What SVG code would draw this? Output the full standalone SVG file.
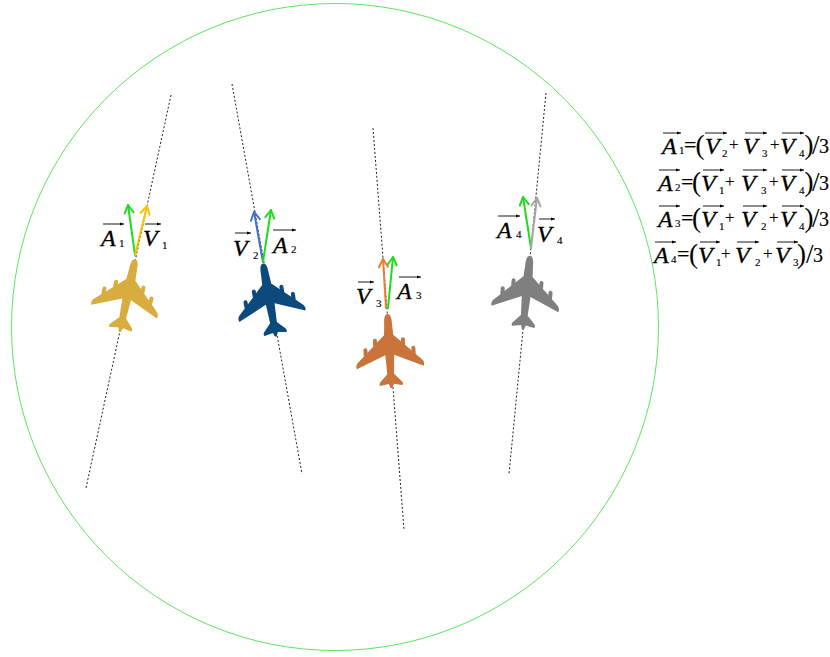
<svg xmlns="http://www.w3.org/2000/svg" width="830" height="657" viewBox="0 0 830 657">
<style>
.trk{stroke:#222;stroke-width:1;stroke-dasharray:2 2;fill:none}
.vec{stroke-width:2;fill:none;stroke-linecap:round}
.ov{stroke:#000;stroke-width:0.9;fill:none;marker-end:url(#oa)}
text{font-family:"Liberation Serif","Times New Roman",serif;font-size:24px;font-style:italic;fill:#000;stroke:#000;stroke-width:0.3}
.sub{font-style:normal;font-size:11px;stroke-width:0.15}
.op{font-style:normal;font-size:22px;stroke-width:0.15}
.pl{font-style:normal;font-size:17px;stroke-width:0.15}
.par{font-style:normal;font-size:27px;stroke-width:0.1}
.n3{font-style:normal;font-size:20px;stroke-width:0.15}
</style>
<defs>
<marker id="oa" markerUnits="userSpaceOnUse" orient="auto" overflow="visible"><path d="M-4,-1.6 L0,0 L-4,1.6 Z" fill="#000"/></marker>
<marker id="hG" markerUnits="userSpaceOnUse" orient="auto" overflow="visible"><path d="M-8,-4.5 L0,0 L-8,4.5" fill="none" stroke="#1EDC1E" stroke-width="2" stroke-linejoin="round" stroke-linecap="round"/></marker>
<marker id="hY" markerUnits="userSpaceOnUse" orient="auto" overflow="visible"><path d="M-8,-4.5 L0,0 L-8,4.5" fill="none" stroke="#FFC000" stroke-width="2" stroke-linejoin="round" stroke-linecap="round"/></marker>
<marker id="hB" markerUnits="userSpaceOnUse" orient="auto" overflow="visible"><path d="M-8,-4.5 L0,0 L-8,4.5" fill="none" stroke="#4472C4" stroke-width="2" stroke-linejoin="round" stroke-linecap="round"/></marker>
<marker id="hO" markerUnits="userSpaceOnUse" orient="auto" overflow="visible"><path d="M-8,-4.5 L0,0 L-8,4.5" fill="none" stroke="#ED7D31" stroke-width="2" stroke-linejoin="round" stroke-linecap="round"/></marker>
<marker id="hK" markerUnits="userSpaceOnUse" orient="auto" overflow="visible"><path d="M-8,-4.5 L0,0 L-8,4.5" fill="none" stroke="#A6A6A6" stroke-width="2" stroke-linejoin="round" stroke-linecap="round"/></marker>
<g id="plane">
<path d="M0 -37 C2.8 -37 3.9 -33 3.9 -27 L4.6 -16 L31.5 9.5 C34 11.5 34.5 14.5 33.5 16.5 L4.4 4 L3.4 23 L11 31 C12 32.5 12 34 11 34.5 L2.4 33 L1 37 L-1 37 L-2.4 33 L-11 34.5 C-12 34 -12 32.5 -11 31 L-3.4 23 L-4.4 4 L-33.5 16.5 C-34.5 14.5 -34 11.5 -31.5 9.5 L-4.6 -16 L-3.9 -27 C-3.9 -33 -2.8 -37 0 -37 Z"/>
<rect x="12" y="-13" width="4" height="9" rx="2"/>
<rect x="22" y="-4" width="4" height="9" rx="2"/>
<rect x="-16" y="-13" width="4" height="9" rx="2"/>
<rect x="-26" y="-4" width="4" height="9" rx="2"/>
</g>
</defs>
<rect width="830" height="657" fill="#fff"/>
<circle id="zone" cx="335" cy="327" r="323.5" fill="none" stroke="#5EE35E" stroke-width="1"/>
<g id="tracks">
<line class="trk" x1="171" y1="95" x2="86" y2="488"/>
<line class="trk" x1="232" y1="84" x2="302" y2="474"/>
<line class="trk" x1="373" y1="128" x2="404" y2="530"/>
<line class="trk" x1="546" y1="93" x2="509" y2="474"/>
</g>
<g id="plane1">
<use href="#plane" fill="#D8AC3E" transform="translate(127.5 295.5) rotate(12)"/>
</g>
<g id="plane2">
<use href="#plane" fill="#0C4A7E" transform="translate(269.5 300) rotate(-10)"/>
</g>
<g id="plane3">
<use href="#plane" fill="#C8743A" transform="translate(389.5 351) rotate(-3)"/>
</g>
<g id="plane4">
<use href="#plane" fill="#7F7F7F" transform="translate(526.5 292.5) rotate(5.5)"/>
</g>
<g id="connectors">
<line class="vec" stroke="#1EDC1E" x1="135" y1="255" x2="128" y2="205" marker-end="url(#hG)"/>
<line class="vec" stroke="#FFC000" x1="135" y1="255" x2="147" y2="206" marker-end="url(#hY)"/>
<line class="vec" stroke="#4472C4" x1="263" y1="262" x2="254" y2="212" marker-end="url(#hB)"/>
<line class="vec" stroke="#1EDC1E" x1="263" y1="262" x2="271" y2="210" marker-end="url(#hG)"/>
<line class="vec" stroke="#ED7D31" x1="386" y1="308" x2="383" y2="259" marker-end="url(#hO)"/>
<line class="vec" stroke="#1EDC1E" x1="388" y1="308" x2="393" y2="257" marker-end="url(#hG)"/>
<line class="vec" stroke="#1EDC1E" x1="531" y1="248" x2="523" y2="197" marker-end="url(#hG)"/>
<line class="vec" stroke="#A6A6A6" x1="531" y1="248" x2="537" y2="198" marker-end="url(#hK)"/>
</g>
<g id="labels">
<text><tspan x="101" y="246">A</tspan><tspan class="sub" x="119" y="247">1</tspan></text>
<path class="ov" d="M103 224 H124"/>
<text><tspan x="143" y="246">V</tspan><tspan class="sub" x="162" y="249">1</tspan></text>
<path class="ov" d="M145 224 H161"/>
<text><tspan x="233" y="256">V</tspan><tspan class="sub" x="253" y="259">2</tspan></text>
<path class="ov" d="M235 233 H251"/>
<text><tspan x="273" y="253">A</tspan><tspan class="sub" x="291" y="253">2</tspan></text>
<path class="ov" d="M273 230 H296"/>
<text><tspan x="356" y="304">V</tspan><tspan class="sub" x="376" y="307">3</tspan></text>
<path class="ov" d="M358 282 H374"/>
<text><tspan x="397" y="299">A</tspan><tspan class="sub" x="416" y="299">3</tspan></text>
<path class="ov" d="M399 277 H421"/>
<text><tspan x="497" y="238">A</tspan><tspan class="sub" x="516" y="238">4</tspan></text>
<path class="ov" d="M498 216 H520"/>
<text><tspan x="537" y="242">V</tspan><tspan class="sub" x="557" y="244">4</tspan></text>
<path class="ov" d="M539 219 H555"/>
</g>
<g id="formulas">
<text><tspan x="662" y="154">A</tspan><tspan class="sub" x="679" y="154">1</tspan><tspan class="op" x="684" y="152">=</tspan><tspan class="par" x="695.5" y="154">(</tspan><tspan x="705" y="154">V</tspan><tspan class="sub" x="722" y="157">2</tspan><tspan class="pl" x="729" y="150">+</tspan><tspan x="743" y="154">V</tspan><tspan class="sub" x="762" y="157">3</tspan><tspan class="pl" x="770" y="150">+</tspan><tspan x="780" y="154">V</tspan><tspan class="sub" x="799" y="157">4</tspan><tspan class="par" x="804.5" y="154">)</tspan><tspan class="par" x="812" y="154">/</tspan><tspan class="n3" x="819" y="153">3</tspan></text>
<path class="ov" d="M663 133 H681"/><path class="ov" d="M705 133 H727"/><path class="ov" d="M745 133 H767"/><path class="ov" d="M782 133 H804"/>
<text><tspan x="658" y="191">A</tspan><tspan class="sub" x="675" y="191">2</tspan><tspan class="op" x="681" y="189">=</tspan><tspan class="par" x="692" y="191">(</tspan><tspan x="701" y="191">V</tspan><tspan class="sub" x="719" y="194">1</tspan><tspan class="pl" x="725" y="187">+</tspan><tspan x="741" y="191">V</tspan><tspan class="sub" x="761" y="194">3</tspan><tspan class="pl" x="769" y="187">+</tspan><tspan x="780" y="191">V</tspan><tspan class="sub" x="799" y="194">4</tspan><tspan class="par" x="804.5" y="191">)</tspan><tspan class="par" x="812" y="191">/</tspan><tspan class="n3" x="819" y="190">3</tspan></text>
<path class="ov" d="M659 170 H680"/><path class="ov" d="M703 170 H724"/><path class="ov" d="M743 170 H767"/><path class="ov" d="M782 170 H804"/>
<text><tspan x="658" y="227">A</tspan><tspan class="sub" x="675" y="227">3</tspan><tspan class="op" x="681" y="225">=</tspan><tspan class="par" x="692" y="227">(</tspan><tspan x="701" y="227">V</tspan><tspan class="sub" x="719" y="230">1</tspan><tspan class="pl" x="725" y="223">+</tspan><tspan x="741" y="227">V</tspan><tspan class="sub" x="761" y="230">2</tspan><tspan class="pl" x="769" y="223">+</tspan><tspan x="780" y="227">V</tspan><tspan class="sub" x="799" y="230">4</tspan><tspan class="par" x="804.5" y="227">)</tspan><tspan class="par" x="812" y="227">/</tspan><tspan class="n3" x="819" y="226">3</tspan></text>
<path class="ov" d="M659 206 H680"/><path class="ov" d="M703 206 H724"/><path class="ov" d="M743 206 H767"/><path class="ov" d="M782 206 H804"/>
<text><tspan x="654" y="263">A</tspan><tspan class="sub" x="671" y="263">4</tspan><tspan class="op" x="677" y="261">=</tspan><tspan class="par" x="689" y="263">(</tspan><tspan x="698" y="263">V</tspan><tspan class="sub" x="716" y="266">1</tspan><tspan class="pl" x="721" y="259">+</tspan><tspan x="735" y="263">V</tspan><tspan class="sub" x="755" y="266">2</tspan><tspan class="pl" x="763" y="259">+</tspan><tspan x="775" y="263">V</tspan><tspan class="sub" x="793" y="266">3</tspan><tspan class="par" x="797" y="263">)</tspan><tspan class="par" x="806" y="263">/</tspan><tspan class="n3" x="813" y="262">3</tspan></text>
<path class="ov" d="M655 242 H676"/><path class="ov" d="M700 242 H720"/><path class="ov" d="M737 242 H759"/><path class="ov" d="M777 242 H798"/>
</g>
</svg>
